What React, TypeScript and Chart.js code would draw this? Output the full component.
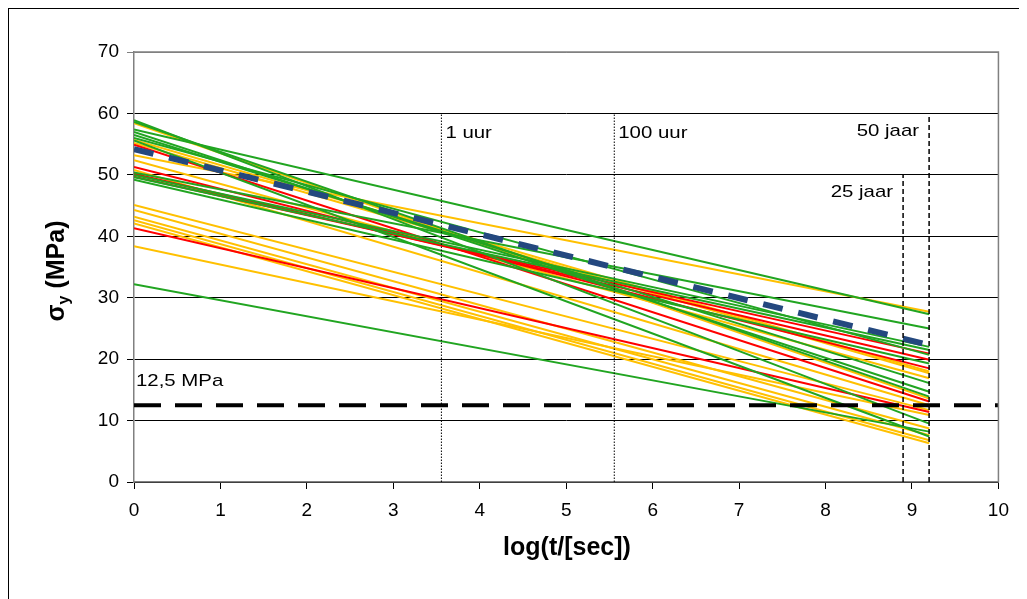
import React, { useEffect, useRef } from "react";
import { Chart, registerables } from "chart.js";

Chart.register(...registerables);

// ---- data ----
const X_START = 0;
const X_END = 9.2; // 50 jaar

const greenStart = [58.9, 58.6, 57.4, 57.0, 56.5, 56.0, 55.6, 50.4, 50.0, 49.6, 49.2, 32.2];
const greenEnd = [9.5, 13.9, 27.3, 14.7, 16.1, 20.7, 7.4, 25.0, 22.0, 21.5, 19.3, 8.2];

const redStart = [54.9, 51.3, 50.2, 49.7, 41.3];
const redEnd = [13.1, 18.5, 19.9, 20.9, 11.4];

const orangeStart = [58.4, 55.7, 55.2, 53.2, 52.4, 50.8, 45.1, 44.3, 43.2, 42.6, 42.1, 38.4];
const orangeEnd = [13.6, 18.0, 17.7, 27.7, 16.9, 12.5, 11.7, 8.7, 7.6, 6.8, 6.3, 10.9];

const meanStart = 54.2;
const meanEnd = 22.3;

const limitValue = 12.5;
const limitLabel = "12,5 MPa";

const markerX = [3.556, 5.556, 8.897, 9.198];
const markerTop = [60, 60, 50, 60];
const markerLabels = ["1 uur", "100 uur", "25 jaar", "50 jaar"];

const xTicksMin = 0;
const xTicksMax = 10;
const yTicksMin = 0;
const yTicksMax = 70;

const GREEN = "#21a521";
const RED = "#ff0000";
const ORANGE = "#ffc000";
const BLUE = "#24487f";

function lineSet(starts: number[], ends: number[], color: string, order: number) {
  return starts.map((s, i) => ({
    type: "line" as const,
    data: [
      { x: X_START, y: s },
      { x: X_END, y: ends[i] },
    ],
    borderColor: color,
    borderWidth: 2,
    pointRadius: 0,
    fill: false,
    order,
  }));
}

const FONT = "'Liberation Sans', Arial, sans-serif";
const STRETCH = 1.2;

function stretchedText(ctx: any, text: string, x: number, y: number, align: "left" | "right") {
  ctx.save();
  ctx.translate(x, y);
  ctx.scale(STRETCH, 1);
  ctx.textAlign = align;
  ctx.fillText(text, 0, 0);
  ctx.restore();
}

const overlayPlugin = {
  id: "overlay",
  afterDraw(chart: any) {
    const { ctx, chartArea, scales } = chart;
    const xs = scales.x;
    const ys = scales.y;
    ctx.save();
    // plot frame (right + top gray)
    ctx.strokeStyle = "#808080";
    ctx.lineWidth = 1.5;
    ctx.beginPath();
    ctx.moveTo(chartArea.left, chartArea.top);
    ctx.lineTo(chartArea.right, chartArea.top);
    ctx.lineTo(chartArea.right, chartArea.bottom);
    ctx.stroke();

    // marker labels
    ctx.fillStyle = "#000";
    ctx.font = `17px ${FONT}`;
    ctx.textBaseline = "middle";
    const labelYs = [60 - 3, 60 - 3, 50 - 2.7, 60 - 2.8];
    markerX.forEach((mx, i) => {
      const px = xs.getPixelForValue(mx);
      const py = ys.getPixelForValue(labelYs[i]);
      if (i < 2) {
        stretchedText(ctx, markerLabels[i], px + 4, py + 1, "left");
      } else {
        stretchedText(ctx, markerLabels[i], px - 10, py + 1, "right");
      }
    });
    stretchedText(ctx, limitLabel, xs.getPixelForValue(0) + 2, ys.getPixelForValue(16.4), "left");

    // y title with subscript
    const cx = 64 - 9;
    const cy = 271 - 9;
    ctx.translate(cx, cy);
    ctx.rotate(-Math.PI / 2);
    const big = `bold 25px ${FONT}`;
    const small = `bold 16px ${FONT}`;
    ctx.font = big;
    const w1 = ctx.measureText("σ").width;
    ctx.font = small;
    const w2 = ctx.measureText("y").width;
    ctx.font = big;
    const w3 = ctx.measureText(" (MPa)").width;
    const total = w1 + w2 + w3;
    const x0 = -total / 2;
    ctx.textAlign = "left";
    ctx.textBaseline = "alphabetic";
    ctx.font = big;
    ctx.fillText("σ", x0, 0);
    ctx.font = small;
    ctx.fillText("y", x0 + w1, 5);
    ctx.font = big;
    ctx.fillText(" (MPa)", x0 + w1 + w2, 0);
    ctx.restore();

    // x title
    ctx.save();
    ctx.fillStyle = "#000";
    ctx.font = `bold 25px ${FONT}`;
    ctx.textAlign = "center";
    ctx.textBaseline = "middle";
    ctx.fillText("log(t/[sec])", 567 - 9, 548 - 9);
    ctx.restore();
  },
};

export default function App() {
  const ref = useRef<HTMLCanvasElement | null>(null);
  useEffect(() => {
    if (!ref.current) return;
    const datasets: any[] = [
      // black dashed limit line (top)
      {
        type: "line",
        data: [
          { x: xTicksMin, y: limitValue },
          { x: xTicksMax, y: limitValue },
        ],
        borderColor: "#000",
        borderWidth: 4,
        borderDash: [27, 14],
        pointRadius: 0,
        order: 0,
      },
      // vertical markers
      ...markerX.map((mx, i) => ({
        type: "line",
        data: [
          { x: mx, y: 0 },
          { x: mx, y: markerTop[i] },
        ],
        borderColor: "#000",
        borderWidth: i < 2 ? 1 : 1.5,
        borderDash: i < 2 ? [1.5, 1.5] : [5, 3],
        pointRadius: 0,
        order: 0,
      })),
      // mean dashed blue line
      {
        type: "line",
        data: [
          { x: X_START, y: meanStart },
          { x: X_END, y: meanEnd },
        ],
        borderColor: BLUE,
        borderWidth: 6,
        borderDash: [20, 16],
        pointRadius: 0,
        order: 1,
      },
      ...lineSet(greenStart, greenEnd, GREEN, 2),
      ...lineSet(redStart, redEnd, RED, 3),
      ...lineSet(orangeStart, orangeEnd, ORANGE, 4),
    ];
    const chart = new Chart(ref.current, {
      type: "line",
      data: { datasets },
      options: {
        animation: false,
        responsive: false,
        maintainAspectRatio: false,
        layout: { padding: { top: 43, right: 17, left: 0, bottom: 0 } },
        plugins: { legend: { display: false }, tooltip: { enabled: false } },
        scales: {
          x: {
            type: "linear",
            min: xTicksMin,
            max: xTicksMax,
            ticks: { stepSize: 1, color: "#000", font: { size: 19, family: FONT }, padding: 10 },
            grid: { drawOnChartArea: false, drawTicks: true, tickLength: 7, color: "#000" },
            border: { color: "#808080", width: 1.5 },
            afterFit: (s: any) => {
              s.height = 116;
            },
          },
          y: {
            type: "linear",
            min: yTicksMin,
            max: yTicksMax,
            ticks: { stepSize: 10, color: "#000", font: { size: 19, family: FONT }, padding: 8 },
            grid: {
              color: (c: any) => (c.tick && c.tick.value === 70 ? "#808080" : "#000"),
              tickLength: 7,
              lineWidth: 1,
            },
            border: { color: "#808080", width: 1.5 },
            afterFit: (s: any) => {
              s.width = 125;
            },
          },
        },
      },
      plugins: [overlayPlugin],
    });
    return () => chart.destroy();
  }, []);
  return (
    <div
      style={{
        width: 1019,
        height: 591,
        overflow: "hidden",
        borderLeft: "1px solid #000",
        borderTop: "1px solid #000",
        boxSizing: "border-box",
        position: "relative",
        background: "#fff",
      }}
    >
      <canvas ref={ref} width={1010} height={589} style={{ display: "block" }} />
    </div>
  );
}
